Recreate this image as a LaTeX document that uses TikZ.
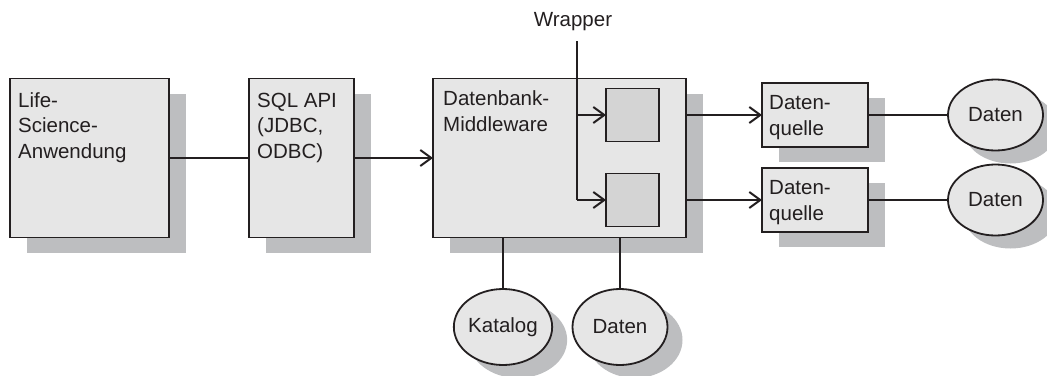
\documentclass[tikz,border=0pt]{standalone}
\usepackage{fontspec}
\setmainfont{Liberation Sans}
\usetikzlibrary{arrows.meta,shadows,shapes.geometric}
\definecolor{linec}{HTML}{231F20}
\definecolor{boxfill}{HTML}{E6E6E6}
\definecolor{innerfill}{HTML}{D4D4D4}
\definecolor{shad}{HTML}{BDBEC0}
\begin{document}
\begin{tikzpicture}[x=1pt,y=-1pt,
  every node/.style={font=\fontsize{20.5}{25.5}\selectfont, text=linec},
  box/.style={draw=linec, fill=boxfill, line width=1.8pt, inner sep=0pt, outer sep=0pt,
    copy shadow={shadow xshift=17pt, shadow yshift=-15pt, fill=shad, draw=none}},
  inner/.style={draw=linec, fill=innerfill, line width=1.8pt, inner sep=0pt, outer sep=0pt,
    minimum width=53pt, minimum height=53pt},
  oval/.style={ellipse, draw=linec, fill=boxfill, line width=1.8pt, inner sep=0pt, outer sep=0pt,
    copy shadow={shadow xshift=15pt, shadow yshift=-13pt, fill=shad, draw=none}},
  lbl/.style={anchor=base west, align=left, inner sep=0pt},
  conn/.style={draw=linec, line width=2pt},
  arr/.style={conn, -{Straight Barb[length=11pt,width=16pt]}}
]
\useasboundingbox (0,0) rectangle (1047,375);

% boxes
\node[box, minimum width=159pt, minimum height=159pt] (life) at (89.5,158) {};
\node[box, minimum width=105pt, minimum height=159pt] (sql) at (301.5,158) {};
\node[box, minimum width=253pt, minimum height=159pt] (mw) at (559.5,158) {};
\node[inner] (w1) at (632.5,115) {};
\node[inner] (w2) at (632.5,200) {};
\node[box, minimum width=106pt, minimum height=64pt] (dq1) at (815,115) {};
\node[box, minimum width=106pt, minimum height=64pt] (dq2) at (815,200) {};

% ellipses
\node[oval, minimum width=95pt, minimum height=71pt] (d1) at (995.5,115) {Daten};
\node[oval, minimum width=95pt, minimum height=71pt] (d2) at (995.5,200) {Daten};
\node[oval, minimum width=90pt, minimum height=76pt] (kat) at (503,327) {Katalog};
\node[oval, minimum width=95pt, minimum height=76pt] (d3) at (620,327) {Daten};

% labels (anchor = baseline of last line)
\node[lbl] (tlife) at (18,158) {Life-\\Science-\\Anwendung};
\node[lbl] (tsql) at (257,158) {SQL API\\(JDBC,\\ODBC)};
\node[lbl] (tmw) at (443,131) {Datenbank-\\Middleware};
\node[lbl] (tdq1) at (769,135) {Daten-\\quelle};
\node[lbl] (tdq2) at (769,220) {Daten-\\quelle};
\node[anchor=base, inner sep=0pt] (wrap) at (573,26) {Wrapper};
\coordinate (wtop) at (577,41);
\coordinate (wbot) at (577,200);

% connectors
\draw[conn] (life.east) -- (sql.west);
\draw[arr] (sql.east) -- (mw.west);
\draw[conn] (wtop) -- (wbot);
\draw[arr] (wtop |- w1.west) -- (w1.west);
\draw[arr] (wbot) -- (w2.west);
\draw[arr] (mw.east |- dq1.west) -- (dq1.west);
\draw[arr] (mw.east |- dq2.west) -- (dq2.west);
\draw[conn] (dq1.east) -- (d1.west);
\draw[conn] (dq2.east) -- (d2.west);
\draw[conn] (mw.south -| kat.north) -- (kat.north);
\draw[conn] (mw.south -| d3.north) -- (d3.north);
\end{tikzpicture}
\end{document}
